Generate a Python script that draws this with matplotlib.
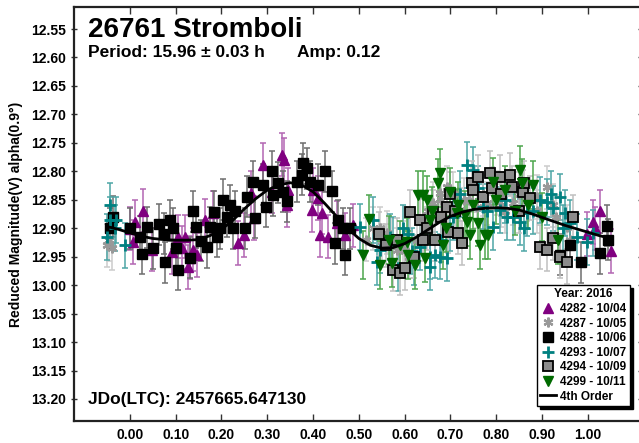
import matplotlib
matplotlib.use('Agg')
import matplotlib.pyplot as plt
from matplotlib.lines import Line2D

plt.rcParams['font.family'] = ['Liberation Sans', 'DejaVu Sans']
plt.rcParams['font.weight'] = 'bold'

# --- data (phase, reduced mag) ---
p_4282 = [0.0, 0.011, 0.028, 0.007, 0.048, 0.092, 0.105, 0.12, 0.114, 0.131, 0.127, 0.138, 0.146,
          0.164, 0.181, 0.236, 0.249, 0.271, 0.264, 0.29, 0.31, 0.332, 0.336, 0.345, 0.342, 0.40,
          0.397, 0.41, 0.419, 0.415, 0.432, 0.452, 0.469, 0.487, 0.998, 1.011, 1.015, 1.026, 1.05]
m_4282 = [12.901, 12.889, 12.869, 12.924, 12.938, 12.942, 12.915, 12.915, 12.934, 12.952, 12.968,
          12.938, 12.947, 12.886, 12.873, 12.926, 12.912, 12.882, 12.838, 12.789, 12.836, 12.771,
          12.78, 12.833, 12.86, 12.833, 12.868, 12.847, 12.873, 12.912, 12.915, 12.891, 12.912,
          12.895, 12.91, 12.889, 12.90, 12.87, 12.94]

p_4287 = [-0.05, -0.045, -0.04, 0.531, 0.546, 0.561, 0.583, 0.597, 0.626, 0.662, 0.677, 0.692,
          0.705, 0.72, 0.757, 0.779, 0.801, 0.836, 0.867, 0.888, 0.91, 0.924, 0.954, 0.961, 0.515,
          0.64, 0.74, 0.82, 0.85, 0.61, 0.57, 0.60, 0.65, 0.68, 0.73, 0.77, 0.81, 0.89, 0.93, 0.55]
m_4287 = [12.93, 12.92, 12.935, 12.90, 12.90, 12.908, 12.938, 12.926, 12.92, 12.856, 12.838, 12.828,
          12.84, 12.868, 12.862, 12.856, 12.838, 12.856, 12.85, 12.845, 12.828, 12.86, 12.898, 12.92,
          12.92, 12.88, 12.85, 12.87, 12.84, 12.95, 12.92, 12.94, 12.87, 12.85, 12.85, 12.84, 12.86,
          12.87, 12.88, 12.93]

p_4288 = [-0.037, -0.044, 0.0, 0.022, 0.026, 0.037, 0.05, 0.063, 0.076, 0.074, 0.087, 0.094, 0.105,
          0.10, 0.131, 0.138, 0.144, 0.155, 0.168, 0.175, 0.183, 0.19, 0.197, 0.203, 0.212, 0.218,
          0.229, 0.225, 0.251, 0.255, 0.269, 0.273, 0.29, 0.297, 0.31, 0.312, 0.323, 0.334, 0.342,
          0.364, 0.378, 0.386, 0.375, 0.393, 0.41, 0.426, 0.441, 0.454, 0.465, 0.448, 0.469, 0.48,
          0.939, 0.96, 0.985, 1.041, 1.026, 1.045]
m_4288 = [12.88, 12.90, 12.90, 12.915, 12.945, 12.898, 12.935, 12.893, 12.96, 12.91, 12.886, 12.90,
          12.973, 12.935, 12.952, 12.87, 12.898, 12.922, 12.933, 12.898, 12.871, 12.915, 12.90, 12.85,
          12.88, 12.86, 12.87, 12.90, 12.90, 12.845, 12.818, 12.882, 12.824, 12.862, 12.80, 12.842,
          12.82, 12.836, 12.853, 12.818, 12.786, 12.795, 12.806, 12.818, 12.824, 12.80, 12.835,
          12.886, 12.90, 12.926, 12.947, 12.90, 12.947, 12.93, 12.96, 12.896, 12.944, 12.92]

p_4293 = [-0.044, -0.044, -0.03, -0.01, -0.033, -0.05, 0.502, 0.531, 0.546, 0.568, 0.575, 0.597,
          0.607, 0.633, 0.655, 0.655, 0.666, 0.677, 0.692, 0.705, 0.736, 0.749, 0.771, 0.793, 0.808,
          0.823, 0.836, 0.852, 0.867, 0.895, 0.91, 0.924, 0.939, 0.95, 0.961, 0.976, 0.998, 1.011,
          0.62, 0.72, 0.54, 0.585, 0.615, 0.68, 0.70, 0.76, 0.78, 0.82, 0.86, 0.88, 0.92, 0.945]
m_4293 = [12.886, 12.86, 12.886, 12.93, 12.90, 12.915, 12.898, 12.886, 12.938, 12.915, 12.92, 12.90,
          12.91, 12.933, 12.95, 12.968, 12.947, 12.95, 12.952, 12.88, 12.789, 12.798, 12.862, 12.898,
          12.868, 12.88, 12.88, 12.889, 12.873, 12.85, 12.854, 12.865, 12.845, 12.873, 12.89, 12.915,
          12.924, 12.908, 12.96, 12.84, 12.96, 12.97, 12.94, 12.92, 12.90, 12.83, 12.87, 12.85,
          12.90, 12.87, 12.84, 12.90]

p_4294 = [0.611, 0.633, 0.648, 0.662, 0.666, 0.692, 0.694, 0.716, 0.725, 0.747, 0.749, 0.771, 0.786,
          0.808, 0.83, 0.834, 0.858, 0.873, 0.895, 0.91, 0.924, 0.939, 0.967, 0.575, 0.59, 0.60,
          0.583, 0.545, 0.56, 0.70, 0.62, 0.64, 0.68, 0.71, 0.76, 0.79, 0.81, 0.85, 0.86, 0.955]
m_4294 = [12.871, 12.886, 12.90, 12.871, 12.92, 12.862, 12.906, 12.908, 12.926, 12.82, 12.833, 12.845,
          12.803, 12.81, 12.806, 12.828, 12.836, 12.847, 12.933, 12.938, 12.917, 12.95, 12.88, 12.973,
          12.979, 12.97, 12.92, 12.91, 12.93, 12.84, 12.95, 12.92, 12.88, 12.87, 12.81, 12.83, 12.84,
          12.87, 12.82, 12.96]

p_4299 = [0.522, 0.509, 0.546, 0.572, 0.605, 0.607, 0.622, 0.629, 0.64, 0.644, 0.648, 0.655, 0.672,
          0.677, 0.684, 0.699, 0.714, 0.716, 0.731, 0.736, 0.742, 0.764, 0.775, 0.782, 0.793, 0.819,
          0.852, 0.856, 0.88, 0.935, 0.59, 0.66, 0.69, 0.75, 0.76, 0.80, 0.84, 0.87, 0.90, 0.565]
m_4299 = [12.884, 12.947, 12.965, 12.961, 12.924, 12.947, 12.965, 12.842, 12.842, 12.952, 12.85,
          12.886, 12.82, 12.803, 12.93, 12.836, 12.873, 12.86, 12.877, 12.889, 12.912, 12.93, 12.912,
          12.912, 12.818, 12.833, 12.798, 12.82, 12.824, 12.92, 12.93, 12.87, 12.90, 12.86, 12.89,
          12.85, 12.87, 12.86, 12.88, 12.92]

err_4282 = 0.038
err_4287 = 0.038
err_4288 = 0.036
err_4293 = 0.040
err_4294 = 0.038
err_4299 = 0.042

# 4th order fit curve
fit_p = [-0.05, -0.025, 0.0, 0.025, 0.05, 0.075, 0.10, 0.125, 0.15, 0.175, 0.20, 0.225, 0.25, 0.275,
         0.30, 0.325, 0.35, 0.375, 0.40, 0.425, 0.45, 0.475, 0.50, 0.525, 0.55, 0.575, 0.60, 0.625,
         0.65, 0.675, 0.70, 0.725, 0.75, 0.775, 0.80, 0.825, 0.85, 0.875, 0.90, 0.925, 0.95, 0.975,
         1.00, 1.025, 1.05]
fit_m = [12.897, 12.902, 12.908, 12.914, 12.918, 12.920, 12.921, 12.921, 12.920, 12.913, 12.902,
         12.886, 12.866, 12.848, 12.833, 12.824, 12.820, 12.824, 12.836, 12.856, 12.878, 12.900,
         12.918, 12.930, 12.935, 12.934, 12.927, 12.916, 12.903, 12.890, 12.879, 12.872, 12.867,
         12.865, 12.864, 12.865, 12.868, 12.874, 12.881, 12.888, 12.895, 12.901, 12.907, 12.913,
         12.918]

x_ticks = [0.0, 0.1, 0.2, 0.3, 0.4, 0.5, 0.6, 0.7, 0.8, 0.9, 1.0]
y_ticks = [12.55, 12.60, 12.65, 12.70, 12.75, 12.80, 12.85, 12.90, 12.95, 13.00, 13.05, 13.10, 13.15, 13.20]

fig = plt.figure(figsize=(6.39, 4.43), dpi=100)
ax = fig.add_axes([74 / 639, 22 / 443, 567 / 639, 414 / 443])

series = [
    (p_4282, m_4282, err_4282, dict(marker='^', color='#800080', mec='#800080', ms=6.5), '#b366b3', '4282 - 10/04'),
    (p_4287, m_4287, err_4287, dict(marker=(6, 2, 0), color='#999999', mec='#999999', ms=7, mew=1.6), '#cccccc', '4287 - 10/05'),
    (p_4288, m_4288, err_4288, dict(marker='s', color='black', mec='black', ms=7), '#6e6e6e', '4288 - 10/06'),
    (p_4293, m_4293, err_4293, dict(marker='+', color='#008080', mec='#008080', ms=8, mew=2), '#4da6a6', '4293 - 10/07'),
    (p_4294, m_4294, err_4294, dict(marker='s', color='#8c8c8c', mfc='#8c8c8c', mec='black', ms=7, mew=1.3), '#c0c0c0', '4294 - 10/09'),
    (p_4299, m_4299, err_4299, dict(marker='v', color='#006a00', mec='#006a00', ms=6.5), '#4da64d', '4299 - 10/11'),
]

handles = []
for p, m, e, style, ecol, label in series:
    ax.errorbar(p, m, yerr=e, fmt='none', ecolor=ecol, elinewidth=1.1, capsize=2.5, capthick=1.1, zorder=2)
    ax.plot(p, m, linestyle='none', zorder=3, **style)
    handles.append(Line2D([], [], linestyle='none', **style))

ax.plot(fit_p, fit_m, color='black', lw=2, zorder=4)
handles.append(Line2D([], [], color='black', lw=2))
labels = [s[5] for s in series] + ['4th Order']

ax.set_xlim(-0.122, 1.116)
ax.set_ylim(13.2387, 12.5113)
ax.set_xticks(x_ticks)
ax.set_xticklabels([f'{v:.2f}' for v in x_ticks])
ax.set_yticks(y_ticks)
ax.set_yticklabels([f'{v:.2f}' for v in y_ticks])
ax.tick_params(axis='x', direction='in', length=5, width=1, top=True, labelsize=10, pad=5, colors='#333333', labelcolor='black')
ax.tick_params(axis='y', direction='inout', length=5, width=1, right=True, labelsize=10, pad=3, colors='#333333', labelcolor='black')
for s in ax.spines.values():
    s.set_linewidth(1.6)
    s.set_color('#222222')

ax.set_ylabel('Reduced Magnitude(V) alpha(0.9°)', fontsize=10, fontweight='bold', labelpad=6)

ax.text(0.0247, 0.9275, '26761 Stromboli', transform=ax.transAxes, fontsize=20, fontweight='bold', va='baseline')
ax.text(0.0247, 0.879, 'Period: 15.96 ± 0.03 h', transform=ax.transAxes, fontsize=12.5, fontweight='bold', va='baseline')
ax.text(0.393, 0.879, 'Amp: 0.12', transform=ax.transAxes, fontsize=12.5, fontweight='bold', va='baseline')
ax.text(0.0247, 0.053, 'JDo(LTC): 2457665.647130', transform=ax.transAxes, fontsize=12.5, fontweight='bold', va='center')

leg = ax.legend(handles, labels, title='Year: 2016', loc='lower right', bbox_to_anchor=(0.981, 0.036),
                fontsize=8.5, title_fontproperties={'weight': 'bold', 'size': 8.5},
                frameon=True, fancybox=False, edgecolor='black', framealpha=1,
                shadow={'color': 'black', 'alpha': 1}, labelspacing=0.22, handlelength=1.3,
                handletextpad=0.4, borderpad=0.3, borderaxespad=0)
leg.get_frame().set_linewidth(1)
for t in leg.get_texts():
    t.set_fontweight('bold')

fig.savefig('out.png', dpi=100)
